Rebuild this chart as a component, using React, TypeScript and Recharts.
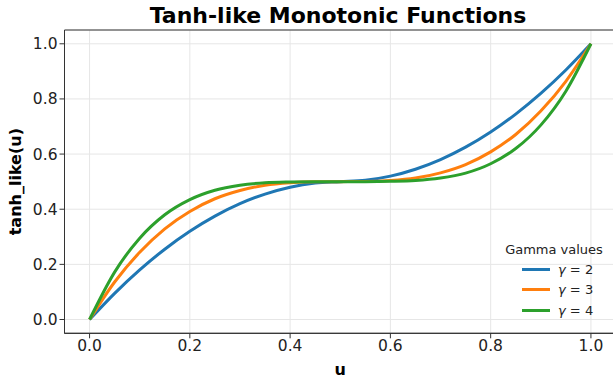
import { LineChart, Line, XAxis, YAxis, CartesianGrid, ReferenceArea } from "recharts";

// u sampled at 0.05 steps
const uValues = [0, 0.05, 0.1, 0.15, 0.2, 0.25, 0.3, 0.35, 0.4, 0.45, 0.5, 0.55, 0.6, 0.65, 0.7, 0.75, 0.8, 0.85, 0.9, 0.95, 1];
const gamma2 = [0, 0.095, 0.18, 0.255, 0.32, 0.375, 0.42, 0.455, 0.48, 0.495, 0.5, 0.505, 0.52, 0.545, 0.58, 0.625, 0.68, 0.745, 0.82, 0.905, 1];
const gamma3 = [0, 0.136, 0.244, 0.329, 0.392, 0.438, 0.468, 0.487, 0.496, 0.4995, 0.5, 0.5005, 0.504, 0.513, 0.532, 0.562, 0.608, 0.671, 0.756, 0.864, 1];
const gamma4 = [0, 0.172, 0.295, 0.38, 0.435, 0.469, 0.487, 0.496, 0.499, 0.5, 0.5, 0.5, 0.501, 0.504, 0.513, 0.531, 0.565, 0.62, 0.705, 0.828, 1];
const ticks = [0, 0.2, 0.4, 0.6, 0.8, 1.0];

const series = [
  { key: "g2", label: "2", color: "#1f77b4" },
  { key: "g3", label: "3", color: "#ff7f0e" },
  { key: "g4", label: "4", color: "#2ca02c" },
];

const data = uValues.map((u, i) => ({ u, g2: gamma2[i], g3: gamma3[i], g4: gamma4[i] }));

const font = "DejaVu Sans, sans-serif";

function GammaLegend() {
  return (
    <div style={{ position: "absolute", left: 498, top: 242, width: 112, fontFamily: font, fontSize: 13, color: "#222" }}>
      <div style={{ textAlign: "center", marginBottom: 2 }}>Gamma values</div>
      {series.map((s) => (
        <div key={s.key} style={{ display: "flex", alignItems: "center", height: 20.5, paddingLeft: 24 }}>
          <div style={{ width: 28, height: 3, background: s.color, marginRight: 8 }} />
          <span>
            <i>γ</i> = {s.label}
          </span>
        </div>
      ))}
    </div>
  );
}

export default function App() {
  return (
    <div style={{ position: "absolute", left: 0, top: 0, width: 613, height: 379, overflow: "hidden", background: "#fff" }}>
      <div
        style={{
          position: "absolute",
          top: 3,
          left: 64,
          width: 548,
          textAlign: "center",
          fontFamily: font,
          fontWeight: "bold",
          fontSize: 22,
          color: "#000",
        }}
      >
        Tanh-like Monotonic Functions
      </div>
      <LineChart width={620} height={379} data={data} margin={{ top: 30, right: 4, bottom: 0, left: 0 }}>
        <CartesianGrid stroke="#e6e6e6" strokeWidth={1} />
        <XAxis
          dataKey="u"
          type="number"
          domain={[-0.05, 1.05]}
          ticks={ticks}
          allowDataOverflow
          tickFormatter={(v: number) => v.toFixed(1)}
          tick={{ fill: "#222", fontSize: 15.5, fontFamily: font }}
          tickLine={{ stroke: "#333" }}
          axisLine={{ stroke: "#333" }}
          tickSize={5}
          height={45.7}
          label={{ value: "u", position: "insideBottom", offset: 4, style: { fontFamily: font, fontWeight: "bold", fontSize: 16, fill: "#000" } }}
        />
        <YAxis
          type="number"
          domain={[-0.05, 1.05]}
          ticks={ticks}
          allowDataOverflow
          tickFormatter={(v: number) => v.toFixed(1)}
          tick={{ fill: "#222", fontSize: 15.5, fontFamily: font }}
          tickLine={{ stroke: "#333" }}
          axisLine={{ stroke: "#333" }}
          tickSize={5}
          width={64.5}
          label={{
            value: "tanh_like(u)",
            angle: -90,
            position: "insideLeft",
            offset: 15,
            style: { textAnchor: "middle", fontFamily: font, fontWeight: "bold", fontSize: 16, fill: "#000" },
          }}
        />
        <ReferenceArea x1={-0.05} x2={1.05} y1={-0.05} y2={1.05} fill="none" stroke="#333" strokeWidth={1} ifOverflow="visible" />
        {series.map((s) => (
          <Line
            key={s.key}
            dataKey={s.key}
            type="monotone"
            stroke={s.color}
            strokeWidth={3}
            dot={false}
            isAnimationActive={false}
          />
        ))}
      </LineChart>
      <GammaLegend />
    </div>
  );
}
